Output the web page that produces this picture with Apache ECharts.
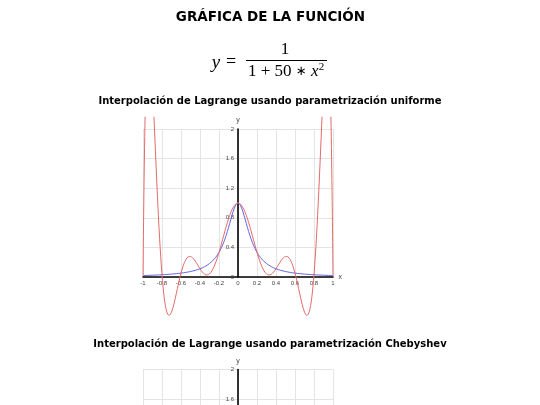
<!DOCTYPE html>
<html><head><meta charset="utf-8">
<script src="https://cdn.jsdelivr.net/npm/echarts@6/dist/echarts.min.js"></script>
<style>html,body{margin:0;padding:0;background:#fff;overflow:hidden}#c{width:540px;height:560px}</style>
</head><body><div id="c"></div><script>
// sample positions along x
const xValues = [-1, -0.99, -0.975, -0.95, -0.925, -0.9, -0.875, -0.85, -0.825, -0.8, -0.775, -0.75, -0.725, -0.7, -0.675, -0.65, -0.625, -0.6, -0.575, -0.55, -0.525, -0.5, -0.475, -0.45, -0.425, -0.4, -0.375, -0.35, -0.325, -0.3, -0.275, -0.25, -0.225, -0.2, -0.175, -0.15, -0.125, -0.1, -0.075, -0.05, -0.025,
  0,
  0.025, 0.05, 0.075, 0.1, 0.125, 0.15, 0.175, 0.2, 0.225, 0.25, 0.275, 0.3, 0.325, 0.35, 0.375, 0.4, 0.425, 0.45, 0.475, 0.5, 0.525, 0.55, 0.575, 0.6, 0.625, 0.65, 0.675, 0.7, 0.725, 0.75, 0.775, 0.8, 0.825, 0.85, 0.875, 0.9, 0.925, 0.95, 0.975, 0.99, 1];
// red curve: Lagrange interpolation, uniform nodes
const lagrangeUniform = [0.0196, 1.1677, 2.3282, 3.1702, 3.1191, 2.5963, 1.8767, 1.1490, 0.5164, 0.0303, -0.2952, -0.4704, -0.5198, -0.4744, -0.3669, -0.2272, -0.0809, 0.0526, 0.1599, 0.2339, 0.2724, 0.2779, 0.2561, 0.2149, 0.1635, 0.1111, 0.0663, 0.0365, 0.0272, 0.0418, 0.0815, 0.1455, 0.2310, 0.3333, 0.4467, 0.5645, 0.6797, 0.7852, 0.8747, 0.9429, 0.9855,
  1,
  0.9855, 0.9429, 0.8747, 0.7852, 0.6797, 0.5645, 0.4467, 0.3333, 0.2310, 0.1455, 0.0815, 0.0418, 0.0272, 0.0365, 0.0663, 0.1111, 0.1635, 0.2149, 0.2561, 0.2779, 0.2724, 0.2339, 0.1599, 0.0526, -0.0809, -0.2272, -0.3669, -0.4744, -0.5198, -0.4704, -0.2952, 0.0303, 0.5164, 1.1490, 1.8767, 2.5963, 3.1191, 3.1702, 2.3282, 1.1677, 0.0196];
// blue curve: the function y = 1/(1+50x^2)
const functionValues = [0.0196, 0.0200, 0.0206, 0.0217, 0.0228, 0.0241, 0.0255, 0.0269, 0.0285, 0.0303, 0.0322, 0.0343, 0.0367, 0.0392, 0.0421, 0.0452, 0.0487, 0.0526, 0.0570, 0.0620, 0.0677, 0.0741, 0.0814, 0.0899, 0.0997, 0.1111, 0.1245, 0.1404, 0.1592, 0.1818, 0.2092, 0.2424, 0.2832, 0.3333, 0.3951, 0.4706, 0.5614, 0.6667, 0.7805, 0.8889, 0.9697,
  1,
  0.9697, 0.8889, 0.7805, 0.6667, 0.5614, 0.4706, 0.3951, 0.3333, 0.2832, 0.2424, 0.2092, 0.1818, 0.1592, 0.1404, 0.1245, 0.1111, 0.0997, 0.0899, 0.0814, 0.0741, 0.0677, 0.0620, 0.0570, 0.0526, 0.0487, 0.0452, 0.0421, 0.0392, 0.0367, 0.0343, 0.0322, 0.0303, 0.0285, 0.0269, 0.0255, 0.0241, 0.0228, 0.0217, 0.0206, 0.0200, 0.0196];
// axis ranges / tick steps
const xRange = [-1, 1];
const xStep = 0.2;
const yRange = [0, 2];
const yStep = 0.4;
const dataYRange = [-0.6, 2.16];

const pageTitle = 'GRÁFICA DE LA FUNCIÓN';
const chartTitles = ['Interpolación de Lagrange usando parametrización uniforme', 'Interpolación de Lagrange usando parametrización Chebyshev'];

const GL = 143, GW = 190, PX = 74; // px per unit on y
const zeroY1 = 277;
const top1 = zeroY1 - yRange[1] * PX;
const top2 = 369.5;

const lblFont = 'Liberation Sans, Arial, sans-serif';
function axisPair(gi) {
  const x = {
    type: 'value', gridIndex: gi, min: xRange[0], max: xRange[1], interval: xStep,
    axisLine: {show: true, onZero: false, lineStyle: {color: '#000', width: 1.6}},
    axisTick: {show: false},
    axisLabel: {fontSize: 6, color: '#444', margin: 3, fontFamily: lblFont},
    splitLine: {show: true, lineStyle: {color: '#e4e4e4', width: 1}},
    name: 'x', nameLocation: 'end', nameGap: 4,
    nameTextStyle: {fontSize: 7, color: '#444', fontFamily: lblFont}
  };
  const y = {
    type: 'value', gridIndex: gi, min: yRange[0], max: yRange[1], interval: yStep,
    offset: -GW / 2,
    axisLine: {show: true, onZero: false, lineStyle: {color: '#000', width: 1.6}},
    axisTick: {show: false},
    axisLabel: {fontSize: 6, color: '#444', margin: 4, fontFamily: lblFont, padding: [0, 0, 2, 0]},
    splitLine: {show: true, lineStyle: {color: '#e4e4e4', width: 1}},
    name: 'y', nameLocation: 'end', nameGap: 5,
    nameTextStyle: {fontSize: 7, color: '#444', fontFamily: lblFont}
  };
  return [x, y];
}
const a1 = axisPair(0);
const a3 = axisPair(2);
const xB = {type: 'value', gridIndex: 1, min: xRange[0], max: xRange[1], show: false, splitLine: {show: false}};
const yB = {type: 'value', gridIndex: 1, min: dataYRange[0], max: dataYRange[1], show: false, splitLine: {show: false}};

const pts = arr => xValues.map((x, i) => [x, arr[i]]);
const serif = 'Liberation Serif, Times New Roman, serif';
const sans = 'DejaVu Sans, Verdana, sans-serif';

const chart = echarts.init(document.getElementById('c'), null, {renderer: 'canvas'});
chart.setOption({
  animation: false,
  backgroundColor: '#fff',
  grid: [
    {left: GL, width: GW, top: top1, height: yRange[1] * PX},
    {left: GL, width: GW, top: zeroY1 - dataYRange[1] * PX, height: (dataYRange[1] - dataYRange[0]) * PX},
    {left: GL, width: GW, top: top2, height: yRange[1] * PX}
  ],
  xAxis: [a1[0], xB, a3[0]],
  yAxis: [a1[1], yB, a3[1]],
  series: [
    {type: 'line', xAxisIndex: 1, yAxisIndex: 1, data: pts(functionValues), showSymbol: false, smooth: 0.3,
     lineStyle: {color: '#6464e6', width: 1}},
    {type: 'line', xAxisIndex: 1, yAxisIndex: 1, data: pts(lagrangeUniform), showSymbol: false, smooth: 0.3,
     lineStyle: {color: '#e46a6a', width: 1}}
  ],
  graphic: [
    {type: 'text', x: 270.5, y: 17, style: {text: pageTitle, font: 'bold 13.5px ' + sans, fill: '#000', align: 'center', verticalAlign: 'middle'}},
    {type: 'text', x: 216, y: 63, style: {text: 'y', font: 'italic 19px ' + serif, fill: '#000', align: 'center', verticalAlign: 'middle'}},
    {type: 'text', x: 231, y: 62, style: {text: '=', font: '18px ' + serif, fill: '#000', align: 'center', verticalAlign: 'middle'}},
    {type: 'text', x: 285, y: 50, style: {text: '1', font: '17px ' + serif, fill: '#000', align: 'center', verticalAlign: 'middle'}},
    {type: 'line', shape: {x1: 246, y1: 60.5, x2: 327, y2: 60.5}, style: {stroke: '#000', lineWidth: 1}},
    {type: 'text', x: 248, y: 72, style: {text: '1 + 50 {a|∗} {i|x}', font: '17px ' + serif, fill: '#000', align: 'left', verticalAlign: 'middle',
      rich: {i: {fontStyle: 'italic', fontSize: 17, fontFamily: serif}, a: {fontSize: 13, fontFamily: 'DejaVu Sans, sans-serif'}}}},
    {type: 'text', x: 321.5, y: 67, style: {text: '2', font: '11px ' + serif, fill: '#000', align: 'center', verticalAlign: 'middle'}},
    {type: 'text', x: 270, y: 101.5, style: {text: chartTitles[0], font: 'bold 10px ' + sans, fill: '#000', align: 'center', verticalAlign: 'middle'}},
    {type: 'text', x: 270, y: 344, style: {text: chartTitles[1], font: 'bold 10px ' + sans, fill: '#000', align: 'center', verticalAlign: 'middle'}}
  ]
});
</script></body></html>
